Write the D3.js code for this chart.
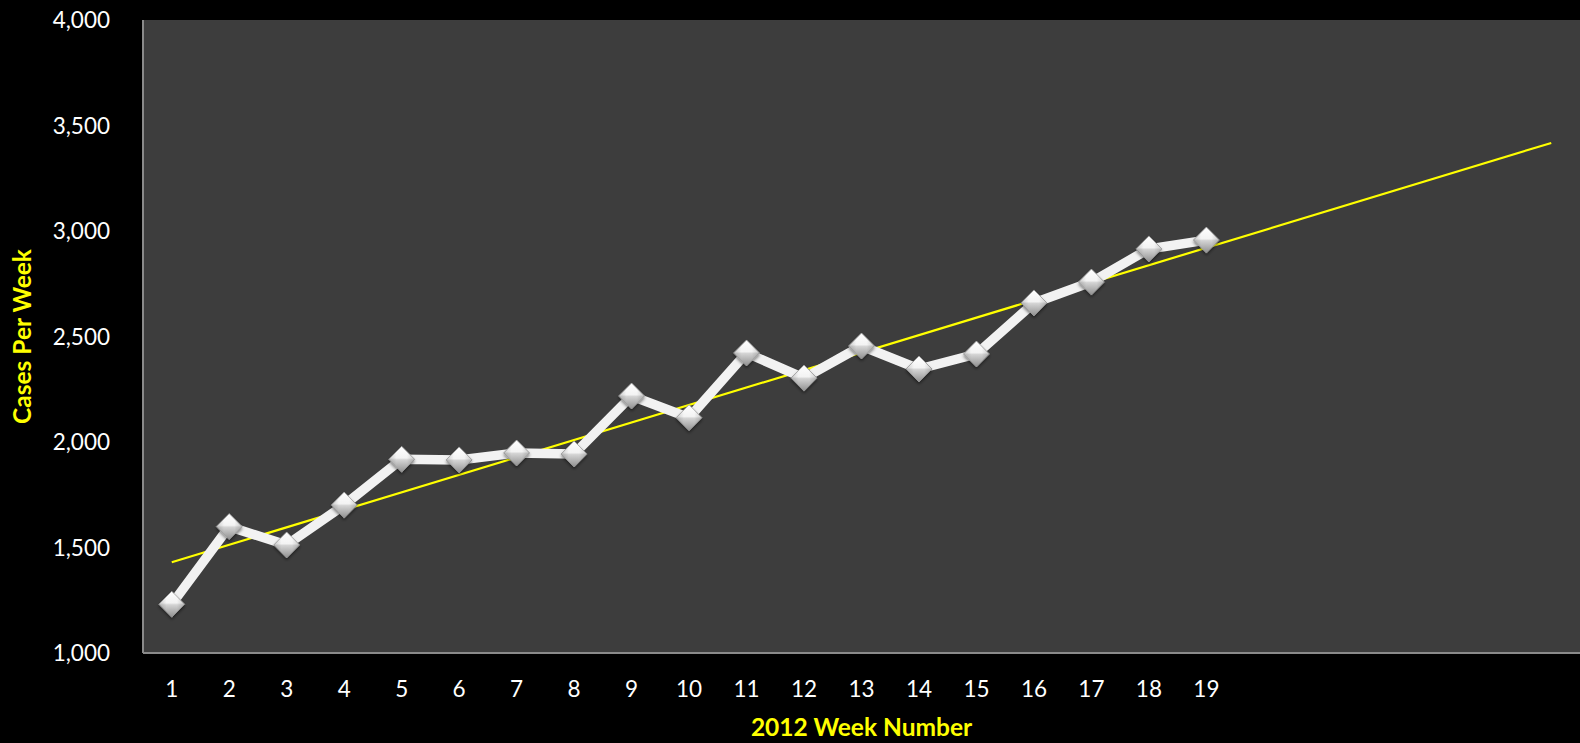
<!DOCTYPE html>
<html>
<head>
<meta charset="utf-8">
<script src="https://cdn.jsdelivr.net/npm/d3@7"></script>
<style>
  html, body { margin: 0; padding: 0; background: #000; }
  svg { display: block; }
</style>
</head>
<body>
<svg id="chart" width="1580" height="743"></svg>
<script>
// ---- data ----
const weeks = [1, 2, 3, 4, 5, 6, 7, 8, 9, 10, 11, 12, 13, 14, 15, 16, 17, 18, 19];
const cases = [1231, 1599, 1512, 1701, 1918, 1915, 1948, 1943, 2218, 2115,
               2422, 2303, 2455, 2346, 2417, 2659, 2758, 2915, 2957];
// the axis keeps room for 6 forecast weeks of the trend line (no labels shown)
const axisSlots = [1, 2, 3, 4, 5, 6, 7, 8, 9, 10, 11, 12, 13, 14, 15, 16, 17, 18, 19,
                   20, 21, 22, 23, 24, 25];
const xTickLabels = ["1", "2", "3", "4", "5", "6", "7", "8", "9", "10", "11", "12",
                     "13", "14", "15", "16", "17", "18", "19"];
const yTicks = [1000, 1500, 2000, 2500, 3000, 3500, 4000];
const yTitle = "Cases Per Week";
const xTitle = "2012 Week Number";

// ---- layout ----
const W = 1580, H = 743;
const plot = { left: 143, right: 1580, top: 20, bottom: 653 };

const svg = d3.select("#chart");

const x = d3.scaleBand().domain(axisSlots).range([plot.left, plot.right]).paddingInner(0).paddingOuter(0);
const xc = d => x(d) + x.bandwidth() / 2;
const y = d3.scaleLinear().domain([1000, 4000]).range([plot.bottom, plot.top]);

// defs
const defs = svg.append("defs");
const grad = defs.append("linearGradient").attr("id", "diaGrad")
  .attr("x1", "0").attr("y1", "0").attr("x2", "0").attr("y2", "1");
grad.append("stop").attr("offset", "0%").attr("stop-color", "#ffffff");
grad.append("stop").attr("offset", "45%").attr("stop-color", "#f3f3f3");
grad.append("stop").attr("offset", "52%").attr("stop-color", "#d4d4d4");
grad.append("stop").attr("offset", "100%").attr("stop-color", "#8f8f8f");
const gradH = defs.append("linearGradient").attr("id", "diaGradH")
  .attr("x1", "0").attr("y1", "0").attr("x2", "1").attr("y2", "0");
gradH.append("stop").attr("offset", "0%").attr("stop-color", "#000").attr("stop-opacity", 0.18);
gradH.append("stop").attr("offset", "30%").attr("stop-color", "#000").attr("stop-opacity", 0);
gradH.append("stop").attr("offset", "70%").attr("stop-color", "#000").attr("stop-opacity", 0);
gradH.append("stop").attr("offset", "100%").attr("stop-color", "#000").attr("stop-opacity", 0.18);
const shadow = defs.append("filter").attr("id", "shadow").attr("x", "-50%").attr("y", "-50%").attr("width", "200%").attr("height", "200%");
shadow.append("feDropShadow").attr("dx", 0).attr("dy", 2).attr("stdDeviation", 1.5)
  .attr("flood-color", "#000").attr("flood-opacity", 0.45);

// background
svg.append("rect").attr("width", W).attr("height", H).attr("fill", "#000");

// plot area
svg.append("rect")
  .attr("x", plot.left).attr("y", plot.top)
  .attr("width", plot.right - plot.left).attr("height", plot.bottom - plot.top)
  .attr("fill", "#3d3d3d");

// axes lines
svg.append("line").attr("x1", plot.left).attr("x2", plot.left)
  .attr("y1", plot.top).attr("y2", plot.bottom)
  .attr("stroke", "#8a8a8a").attr("stroke-width", 2);
svg.append("line").attr("x1", plot.left).attr("x2", plot.right)
  .attr("y1", plot.bottom).attr("y2", plot.bottom)
  .attr("stroke", "#8a8a8a").attr("stroke-width", 2);

// y axis labels
const fmt = d3.format(",");
const yAxis = d3.axisLeft(y).tickValues(yTicks).tickFormat(fmt).tickSize(0).tickPadding(0);
const gy = svg.append("g").attr("transform", `translate(110,0)`).call(yAxis);
gy.select(".domain").remove();
gy.selectAll("text")
  .attr("fill", "#ffffff").attr("font-family", "Lato, 'Open Sans', sans-serif")
  .attr("font-size", 22.5).attr("dy", "0.35em").attr("x", 0);

// x axis labels
const xAxis = d3.axisBottom(x).tickValues(weeks).tickFormat((d, i) => xTickLabels[i]).tickSize(0).tickPadding(0);
const gx = svg.append("g").attr("transform", `translate(0,${plot.bottom})`).call(xAxis);
gx.select(".domain").remove();
gx.selectAll("text")
  .attr("fill", "#ffffff").attr("font-family", "Lato, 'Open Sans', sans-serif")
  .attr("font-size", 22.5).attr("y", 44).attr("dy", 0);

// trend line (least squares from the data, extended across all axis slots)
const mx = d3.mean(weeks), my = d3.mean(cases);
const sxy = d3.sum(weeks, (w, i) => (w - mx) * (cases[i] - my));
const sxx = d3.sum(weeks, w => (w - mx) * (w - mx));
const slope = sxy / sxx, intercept = my - slope * mx;
const trendEnds = [axisSlots[0], axisSlots[axisSlots.length - 1]];
svg.append("path")
  .datum(trendEnds)
  .attr("d", d3.line().x(d => xc(d)).y(d => y(intercept + slope * d)))
  .attr("fill", "none").attr("stroke", "#ffff00").attr("stroke-width", 2.2);

// series line
const series = weeks.map((w, i) => ({ w, v: cases[i] }));
svg.append("path")
  .datum(series)
  .attr("d", d3.line().x(d => xc(d.w)).y(d => y(d.v)))
  .attr("fill", "none").attr("stroke", "#f2f2f2").attr("stroke-width", 9.5)
  .attr("stroke-linejoin", "bevel");

// markers
const dia = "M0,-13 L13,0 L0,13 L-13,0 Z";
const mk = svg.append("g").selectAll("g").data(series).join("g")
  .attr("transform", d => `translate(${xc(d.w)},${y(d.v)})`)
  .attr("filter", "url(#shadow)");
mk.append("path").attr("d", dia).attr("fill", "url(#diaGrad)")
  .attr("stroke", "#9a9a9a").attr("stroke-width", 0.8);
mk.append("path").attr("d", dia).attr("fill", "url(#diaGradH)");

// axis titles
svg.append("text")
  .attr("x", (plot.left + plot.right) / 2).attr("y", 736)
  .attr("text-anchor", "middle")
  .attr("fill", "#ffff00").attr("font-family", "Lato, 'Open Sans', sans-serif")
  .attr("font-weight", "bold").attr("font-size", 24.5)
  .text(xTitle);
svg.append("text")
  .attr("transform", `translate(31,${(plot.top + plot.bottom) / 2}) rotate(-90)`)
  .attr("text-anchor", "middle")
  .attr("fill", "#ffff00").attr("font-family", "Lato, 'Open Sans', sans-serif")
  .attr("font-weight", "bold").attr("font-size", 24.5)
  .text(yTitle);
</script>
</body>
</html>
